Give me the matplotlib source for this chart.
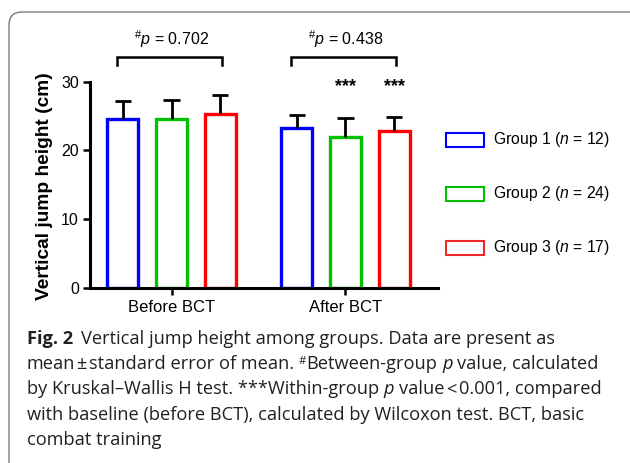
import matplotlib
matplotlib.use('Agg')
import matplotlib.pyplot as plt
from matplotlib.patches import FancyBboxPatch, Rectangle
from matplotlib.transforms import IdentityTransform

# ---------------- data ----------------
categories = ['Before BCT', 'After BCT']
group_labels = ['Group 1', 'Group 2', 'Group 3']
group_n = [12, 24, 17]
g1_mean = [24.5, 23.2]
g1_sem = [2.7, 1.95]
g2_mean = [24.5, 21.9]
g2_sem = [2.8, 2.85]
g3_mean = [25.25, 22.87]
g3_sem = [2.8, 1.93]
between_p = ['0.702', '0.438']
within_stars_after = ['', '***', '***']
y_ticks = [0, 10, 20, 30]

means = [g1_mean, g2_mean, g3_mean]
sems = [g1_sem, g2_sem, g3_sem]
colors = ['#0000ff', '#00c000', '#ff0000']
legend_colors = ['#0000ff', '#00c000', '#ee2a2a']

# ---------------- style ----------------
plt.rcParams['font.family'] = ['Liberation Sans', 'DejaVu Sans']
plt.rcParams['mathtext.fontset'] = 'custom'
plt.rcParams['mathtext.rm'] = 'Liberation Sans'
plt.rcParams['mathtext.it'] = 'Liberation Sans:italic'
plt.rcParams['mathtext.bf'] = 'Liberation Sans:bold'

W, H = 630, 463
fig = plt.figure(figsize=(W / 100, H / 100), dpi=100)
fig.patch.set_facecolor('white')

# outer rounded frame (pixel coords)
frame = FancyBboxPatch((9, -30), 700, H - 12 + 30, boxstyle='round,pad=0,rounding_size=13',
                       transform=IdentityTransform(), ec='#7a7a7a', fc='none', lw=1.0)
fig.add_artist(frame)

# ---------------- axes ----------------
ax_l, ax_r, ax_b, ax_t = 90, 438, 287.7, 81.7
ax = fig.add_axes([ax_l / W, 1 - ax_b / H, (ax_r - ax_l) / W, (ax_b - ax_t) / H])
ax.set_xlim(-0.469, 1.532)
ax.set_ylim(0, 30)
ax.patch.set_alpha(0)
for s in ['top', 'right']:
    ax.spines[s].set_visible(False)
for s in ['left', 'bottom']:
    ax.spines[s].set_linewidth(2.2)
ax.spines['left'].set_bounds(0, 30)

offsets = [-0.28, 0.0, 0.28]
bar_w = 0.177
cap_hw = 0.047
xc = list(range(len(categories)))

for gi in range(3):
    xs = [x + offsets[gi] for x in xc]
    ax.bar(xs, means[gi], width=bar_w, facecolor='white', edgecolor=colors[gi],
           linewidth=2.4, zorder=2)
    tops = [m + e for m, e in zip(means[gi], sems[gi])]
    ax.vlines(xs, means[gi], tops, color='black', lw=2.0, zorder=3)
    ax.hlines(tops, [x - cap_hw for x in xs], [x + cap_hw for x in xs],
              color='black', lw=2.0, zorder=3)

ax.set_xticks(xc)
ax.set_xticklabels(categories, fontsize=12)
ax.set_yticks(y_ticks)
ax.set_yticklabels([str(t) for t in y_ticks], fontsize=11.5)
ax.tick_params(axis='both', direction='out', width=1.8, color='black')
ax.tick_params(axis='y', length=5, pad=3)
ax.tick_params(axis='x', length=5.2, pad=3.5)

# y label
fig.text(45 / W, 1 - 186 / H, 'Vertical jump height (cm)', rotation=90,
         ha='center', va='center', fontsize=13.8, fontweight='bold')

# brackets with between-group p values
for ci, p in enumerate(between_p):
    x0, x1 = ci - 0.311, ci + 0.291
    ax.plot([x0, x0, x1, x1], [32.43, 33.64, 33.64, 32.43], color='black', lw=1.8,
            clip_on=False, solid_joinstyle='miter', zorder=4)
    ax.text(ci, 36.2, r'$^{\#}\mathit{p}$ = ' + p, ha='center', va='center',
            fontsize=11.5, clip_on=False)

# within-group stars (after BCT)
for gi, st in enumerate(within_stars_after):
    if st:
        ax.text(1 + offsets[gi], 29.3, st, ha='center', va='center', fontsize=13,
                fontweight='bold', clip_on=False)

# legend (manual)
for gi in range(3):
    yc = 139.5 + 54 * gi
    rect = Rectangle((445.7, H - yc - 7), 38.3, 14, transform=IdentityTransform(),
                     ec=legend_colors[gi], fc='white', lw=1.5)
    fig.add_artist(rect)
    fig.text(493 / W, 1 - yc / H, group_labels[gi] + r' ($\mathit{n}$ = ' + str(group_n[gi]) + ')',
             ha='left', va='center', fontsize=11.3)

# ---------------- caption ----------------
renderer = fig.canvas.get_renderer()
CAP_FAMILY = ['Open Sans', 'DejaVu Sans']
CAP_COLOR = '#231f20'


def props(style, size):
    kw = dict(fontsize=size, family=CAP_FAMILY, color=CAP_COLOR)
    if style == 'b':
        kw['fontweight'] = 'bold'
    elif style == 'i':
        kw['fontstyle'] = 'italic'
    elif style == 'sup':
        kw['fontsize'] = size * 0.62
    return kw


def adv(s, kw):
    t1 = fig.text(0, 0, '|' + s + '|', **kw)
    t2 = fig.text(0, 0, '||', **kw)
    w = t1.get_window_extent(renderer).width - t2.get_window_extent(renderer).width
    t1.remove()
    t2.remove()
    return w


def line_width(runs, size):
    tot = 0
    for r in runs:
        if isinstance(r, (int, float)):
            tot += r
        else:
            tot += adv(r[0], props(r[1], size))
    return tot


def draw_line(runs, x, yb, size):
    for r in runs:
        if isinstance(r, (int, float)):
            x += r
            continue
        s, st = r
        kw = props(st, size)
        lead = len(s) - len(s.lstrip(' '))
        sw = adv(' ', kw) if lead else 0
        dy = size * 0.42 if st == 'sup' else 0
        fig.text((x + lead * sw) / W, (H - yb + dy) / H, s.strip(' '), ha='left',
                 va='baseline', **kw)
        x += adv(s, kw)


cap_lines = [
    [('Fig. 2', 'b'), 8, ('Vertical jump height among groups. Data are present as', 'r')],
    [('mean', 'r'), 1.2, ('±', 'r'), 2.6, ('standard error of mean. ', 'r'), ('#', 'sup'),
     ('Between-group ', 'r'), ('p', 'i'), (' value, calculated', 'r')],
    [('by Kruskal–Wallis H test. ***Within-group ', 'r'), ('p', 'i'), (' value', 'r'), 1.8,
     ('<', 'r'), 2.8, ('0.001, compared', 'r')],
    [('with baseline (before BCT), calculated by Wilcoxon test. BCT, basic', 'r')],
    [('combat training', 'r')],
]

target = 571.0
w12 = line_width(cap_lines[1], 12)
cap_size = 12 * target / w12
baselines = [344, 369.3, 394.5, 419.8, 445]
for runs, yb in zip(cap_lines, baselines):
    draw_line(runs, 26.5, yb, cap_size)

fig.savefig('out.png', dpi=100)
